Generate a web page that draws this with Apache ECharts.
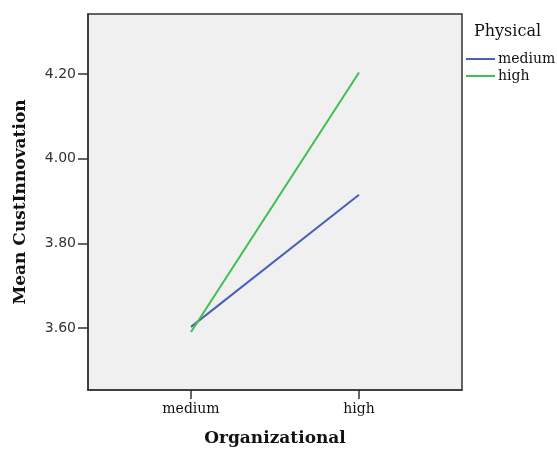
<!DOCTYPE html>
<html><head><meta charset="utf-8">
<script src="https://cdn.jsdelivr.net/npm/echarts@6/dist/echarts.min.js"></script>
<style>html,body{margin:0;padding:0;background:#fff}#c{width:557px;height:449px}</style>
</head><body><div id="c"></div>
<script>
var categories = ['medium', 'high'];
var seriesNames = ['medium', 'high'];
var mediumValues = [3.603, 3.915];
var highValues = [3.591, 4.204];
var yTicks = [3.6, 3.8, 4.0, 4.2];

var chart = echarts.init(document.getElementById('c'));
var serif = 'DejaVu Serif';
function pts(vals){ return vals.map(function(v,i){ return [i, v]; }); }
chart.setOption({
  animation: false,
  backgroundColor: '#fff',
  title: {
    text: 'Physical', left: 474, top: 24, padding: 0,
    textStyle: {fontFamily: serif, fontSize: 16, fontWeight: 'normal', color: '#111'}
  },
  legend: {
    orient: 'vertical', left: 466, top: 52, padding: 0,
    itemWidth: 29, itemHeight: 2, itemGap: 3, icon: 'rect',
    textStyle: {fontFamily: serif, fontSize: 14, color: '#111', padding: [0,0,0,-2]},
    data: seriesNames
  },
  grid: {
    left: 88, top: 14, right: 95, bottom: 59, outerBoundsMode: 'none',
    show: true, backgroundColor: '#f0f0f0', borderColor: '#333', borderWidth: 1.5
  },
  xAxis: {
    type: 'value', min: -0.613, max: 1.613,
    name: 'Organizational', nameLocation: 'middle', nameGap: 40,
    nameTextStyle: {fontFamily: serif, fontSize: 17, fontWeight: 'bold', color: '#111'},
    axisLine: {show: true, onZero: false, lineStyle: {color: '#333', width: 1.5}},
    axisTick: {show: true, length: 9, customValues: [0, 1], lineStyle: {color: '#333', width: 1.5}},
    axisLabel: {customValues: [0, 1], margin: 12, fontFamily: serif, fontSize: 14, color: '#111',
      formatter: function(v){ return categories[Math.round(v)]; }},
    splitLine: {show: false}
  },
  yAxis: {
    type: 'value', min: 3.454, max: 4.342,
    name: 'Mean CustInnovation', nameLocation: 'middle', nameGap: 59, nameRotate: 90,
    nameTextStyle: {fontFamily: serif, fontSize: 17, fontWeight: 'bold', color: '#111'},
    axisLine: {show: true, onZero: false, lineStyle: {color: '#333', width: 1.5}},
    axisTick: {show: true, length: 10, customValues: yTicks, lineStyle: {color: '#333', width: 1.5}},
    axisLabel: {customValues: yTicks, margin: 12, fontFamily: 'DejaVu Sans', fontSize: 14, color: '#333',
      formatter: function(v){ return v.toFixed(2); }},
    splitLine: {show: false}
  },
  series: [
    {name: seriesNames[0], type: 'line', data: pts(mediumValues), symbol: 'none',
      lineStyle: {color: '#4a5fb8', width: 2}, itemStyle: {color: '#4a5fb8'}},
    {name: seriesNames[1], type: 'line', data: pts(highValues), symbol: 'none',
      lineStyle: {color: '#3fbf4f', width: 2}, itemStyle: {color: '#3fbf4f'}}
  ]
});
</script></body></html>
